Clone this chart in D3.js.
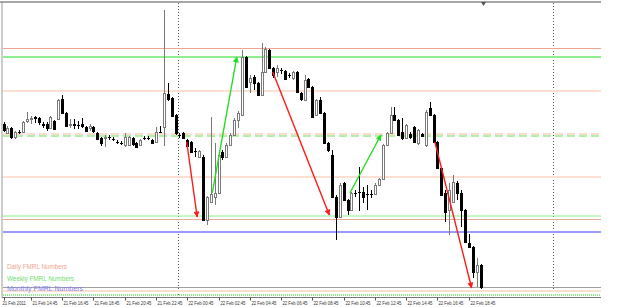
<!DOCTYPE html>
<html><head><meta charset="utf-8">
<script src="https://cdnjs.cloudflare.com/ajax/libs/d3/7.8.5/d3.min.js"></script>
<style>html,body{margin:0;padding:0;background:#fff;overflow:hidden}svg{display:block}</style>
</head><body><svg id="c" width="625" height="307"></svg>
<script>
// ---- data (EURUSD-like, M15 bars) ----
const startTime = "2011-02-21 13:00";
const barMinutes = 15;
const opens  = [1.3676,1.3667,1.3672,1.3663,1.3668,1.3668,1.3679,1.3681,1.3683,1.3682,1.3676,1.3676,1.3672,1.3679,1.3681,1.3701,1.3687,1.3675,1.3676,1.3675,1.3676,1.3673,1.3672,1.3673,1.3667,1.3662,1.3662,1.3663,1.3661,1.3658,1.3657,1.3655,1.3655,1.3662,1.3657,1.3655,1.3662,1.3662,1.3660,1.3658,1.3668,1.3673,1.3706,1.3702,1.3685,1.3665,1.3667,1.3660,1.3658,1.3649,1.3643,1.3643,1.3580,1.3598,1.3603,1.3607,1.3648,1.3643,1.3655,1.3665,1.3680,1.3685,1.3743,1.3718,1.3723,1.3717,1.3705,1.3728,1.3750,1.3732,1.3728,1.3730,1.3729,1.3725,1.3722,1.3728,1.3707,1.3700,1.3721,1.3713,1.3685,1.3700,1.3687,1.3657,1.3645,1.3603,1.3583,1.3617,1.3600,1.3590,1.3607,1.3608,1.3608,1.3606,1.3606,1.3606,1.3615,1.3621,1.3655,1.3667,1.3685,1.3680,1.3668,1.3662,1.3666,1.3673,1.3657,1.3666,1.3655,1.3692,1.3685,1.3658,1.3632,1.3607,1.3590,1.3598,1.3617,1.3607,1.3590,1.3557,1.3553,1.3528,1.3535];
const highs  = [1.3678,1.3674,1.3673,1.3669,1.3670,1.3679,1.3688,1.3684,1.3684,1.3683,1.3678,1.3678,1.3684,1.3680,1.3701,1.3705,1.3688,1.3681,1.3681,1.3679,1.3682,1.3674,1.3676,1.3674,1.3668,1.3663,1.3665,1.3665,1.3663,1.3660,1.3659,1.3667,1.3664,1.3663,1.3658,1.3661,1.3664,1.3664,1.3661,1.3673,1.3674,1.3790,1.3717,1.3703,1.3686,1.3667,1.3668,1.3661,1.3659,1.3652,1.3650,1.3645,1.3604,1.3683,1.3657,1.3648,1.3650,1.3657,1.3667,1.3682,1.3689,1.3750,1.3744,1.3725,1.3725,1.3718,1.3757,1.3753,1.3751,1.3733,1.3735,1.3732,1.3730,1.3727,1.3729,1.3729,1.3708,1.3725,1.3722,1.3714,1.3701,1.3703,1.3688,1.3658,1.3650,1.3605,1.3617,1.3618,1.3601,1.3608,1.3610,1.3633,1.3613,1.3615,1.3610,1.3617,1.3622,1.3656,1.3668,1.3693,1.3693,1.3681,1.3682,1.3676,1.3668,1.3674,1.3671,1.3667,1.3690,1.3698,1.3686,1.3659,1.3633,1.3610,1.3617,1.3625,1.3619,1.3610,1.3591,1.3566,1.3554,1.3542,1.3536];
const lows   = [1.3668,1.3666,1.3661,1.3661,1.3666,1.3667,1.3677,1.3676,1.3677,1.3675,1.3672,1.3669,1.3671,1.3670,1.3680,1.3686,1.3673,1.3672,1.3671,1.3671,1.3672,1.3668,1.3669,1.3667,1.3660,1.3654,1.3653,1.3660,1.3659,1.3656,1.3655,1.3653,1.3654,1.3654,1.3652,1.3654,1.3660,1.3660,1.3656,1.3657,1.3667,1.3654,1.3699,1.3683,1.3665,1.3662,1.3661,1.3653,1.3647,1.3643,1.3642,1.3579,1.3575,1.3597,1.3595,1.3606,1.3640,1.3642,1.3654,1.3664,1.3672,1.3684,1.3712,1.3707,1.3710,1.3704,1.3704,1.3727,1.3731,1.3722,1.3723,1.3726,1.3720,1.3722,1.3720,1.3707,1.3699,1.3699,1.3712,1.3682,1.3684,1.3686,1.3656,1.3648,1.3602,1.3560,1.3582,1.3599,1.3585,1.3589,1.3603,1.3589,1.3597,1.3590,1.3602,1.3605,1.3614,1.3620,1.3654,1.3666,1.3679,1.3664,1.3660,1.3661,1.3661,1.3657,1.3655,1.3663,1.3653,1.3684,1.3657,1.3631,1.3604,1.3578,1.3565,1.3597,1.3600,1.3573,1.3557,1.3552,1.3522,1.3513,1.3511];
const closes = [1.3670,1.3672,1.3663,1.3668,1.3668,1.3678,1.3681,1.3682,1.3682,1.3678,1.3675,1.3672,1.3683,1.3671,1.3700,1.3687,1.3674,1.3676,1.3675,1.3675,1.3674,1.3669,1.3674,1.3669,1.3661,1.3657,1.3663,1.3663,1.3661,1.3658,1.3657,1.3663,1.3663,1.3656,1.3653,1.3660,1.3662,1.3662,1.3657,1.3668,1.3668,1.3707,1.3701,1.3684,1.3667,1.3665,1.3662,1.3654,1.3648,1.3649,1.3649,1.3580,1.3603,1.3606,1.3607,1.3645,1.3643,1.3655,1.3665,1.3680,1.3687,1.3743,1.3713,1.3722,1.3717,1.3705,1.3728,1.3751,1.3732,1.3725,1.3732,1.3730,1.3721,1.3725,1.3728,1.3708,1.3701,1.3720,1.3713,1.3683,1.3700,1.3687,1.3657,1.3650,1.3603,1.3583,1.3615,1.3600,1.3590,1.3607,1.3607,1.3608,1.3603,1.3606,1.3606,1.3615,1.3621,1.3655,1.3667,1.3685,1.3680,1.3665,1.3662,1.3675,1.3663,1.3658,1.3670,1.3664,1.3688,1.3685,1.3658,1.3632,1.3605,1.3588,1.3610,1.3618,1.3607,1.3590,1.3558,1.3553,1.3528,1.3535,1.3513];

const dailyLevels   = [1.3752, 1.3709, 1.3666, 1.3623, 1.3581, 1.3509];
const weeklyLevels  = [1.3743, 1.3664, 1.3584, 1.3505];
const monthlyLevels = [1.3568];

const tickTimes  = ["2011-02-21 13:00","2011-02-21 14:45","2011-02-21 16:45","2011-02-21 18:45","2011-02-21 20:45","2011-02-21 22:45","2011-02-22 00:45","2011-02-22 02:45","2011-02-22 04:45","2011-02-22 06:45","2011-02-22 08:45","2011-02-22 10:45","2011-02-22 12:45","2011-02-22 14:45","2011-02-22 16:45","2011-02-22 18:45"];
const tickLabels = ["21 Feb 2011","21 Feb 14:45","21 Feb 16:45","21 Feb 18:45","21 Feb 20:45","21 Feb 22:45","22 Feb 00:45","22 Feb 02:45","22 Feb 04:45","22 Feb 06:45","22 Feb 08:45","22 Feb 10:45","22 Feb 12:45","22 Feb 14:45","22 Feb 16:45","22 Feb 18:45"];
const separatorTimes = ["2011-02-22 00:00","2011-02-23 00:00"];

const arrowStartTime  = ["2011-02-22 00:43","2011-02-22 02:21","2011-02-22 06:13","2011-02-22 11:09","2011-02-22 16:35"];
const arrowStartPrice = [1.3658, 1.3607, 1.3728, 1.3607, 1.3658];
const arrowEndTime    = ["2011-02-22 01:23","2011-02-22 03:55","2011-02-22 09:50","2011-02-22 13:08","2011-02-22 18:56"];
const arrowEndPrice   = [1.3583, 1.3743, 1.3585, 1.3665, 1.3512];

const legendLabels = ["Daily FMRL Numbers","Weekly FMRL Numbers","Monthly FMRL Numbers"];

// ---- drawing ----
const parse = d3.timeParse("%Y-%m-%d %H:%M");
const t0 = parse(startTime);
const times = opens.map((_, i) => d3.timeMinute.offset(t0, i * barMinutes));
const bars = opens.map((o, i) => ({t: times[i], o, h: highs[i], l: lows[i], c: closes[i]}));

const svg = d3.select("#c");
const right = 601, bottom = 297.5;
const x = d3.scaleTime().domain([times[0], times[times.length - 1]]).range([3.5, 480.5]);
const y = d3.scaleLinear().domain([1.3510, 1.3790]).range([290, 10]);

// frame
svg.append("line").attr("x1", 0).attr("x2", right).attr("y1", 2).attr("y2", 2).attr("stroke", "#8a8a8a").attr("stroke-width", 1.5);
svg.append("line").attr("x1", 2).attr("x2", 2).attr("y1", 2).attr("y2", bottom).attr("stroke", "#9a9a9a");

// separators
svg.selectAll(".sep").data(separatorTimes).join("line")
  .attr("x1", d => Math.round(x(parse(d)) + 2) + 0.5).attr("x2", d => Math.round(x(parse(d)) + 2) + 0.5)
  .attr("y1", 3).attr("y2", bottom)
  .attr("stroke", "#555").attr("stroke-dasharray", "1,2");

// level lines
const dailyStyle = [
  {c: "#eda58f", w: 1}, {c: "#fde0d2", w: 2}, {c: "#fcdccc", w: 2, d: "8,4"},
  {c: "#fde0d2", w: 2}, {c: "#e8ab98", w: 1}, {c: "#fde0d2", w: 2}
];
const weeklyStyle = [
  {c: "#8eef8e", w: 2}, {c: "#b2f2a8", w: 2, d: "8,4"}, {c: "#8eef8e", w: 1.2}, {c: "#8eef8e", w: 2, d: "1,1"}
];
const monthlyStyle = [{c: "#9a9aff", w: 2}];
function levels(arr, st, cls) {
  const yy = (d, i) => Math.round(y(d)) + (st[i].w === 1 ? 0.5 : 0);
  svg.selectAll("." + cls).data(arr).join("line").attr("class", cls)
    .attr("x1", 3).attr("x2", right)
    .attr("y1", yy).attr("y2", yy)
    .attr("stroke", (d, i) => st[i].c).attr("stroke-width", (d, i) => st[i].w)
    .attr("stroke-dasharray", (d, i) => st[i].d || null);
}
levels(weeklyLevels, weeklyStyle, "wk");
levels(dailyLevels, dailyStyle, "dl");
levels(monthlyLevels, monthlyStyle, "mn");

// bid line
const lastY = Math.round(y(closes[closes.length - 1])) + 0.5;
svg.append("line").attr("x1", 3).attr("x2", right).attr("y1", lastY).attr("y2", lastY).attr("stroke", "#a0a0a0");

// candles
const g = svg.append("g");
bars.forEach(b => {
  const cx = Math.round(x(b.t));
  const bull = b.c > b.o;
  const col = bull ? "#7a7a7a" : "#000";
  g.append("line").attr("x1", cx + 0.5).attr("x2", cx + 0.5)
    .attr("y1", y(b.h)).attr("y2", y(b.l)).attr("stroke", col);
  const top = Math.round(y(Math.max(b.o, b.c))), bot = Math.round(y(Math.min(b.o, b.c)));
  if (bot - top < 1) {
    g.append("line").attr("x1", cx - 1).attr("x2", cx + 2).attr("y1", top + 0.5).attr("y2", top + 0.5).attr("stroke", col);
  } else if (bull) {
    g.append("rect").attr("x", cx - 0.5).attr("y", top + 0.5).attr("width", 2).attr("height", bot - top)
      .attr("fill", "#fff").attr("stroke", col);
  } else {
    g.append("rect").attr("x", cx - 1).attr("y", top).attr("width", 3).attr("height", bot - top + 1).attr("fill", "#000");
  }
});

// arrows
const defs = svg.append("defs");
[["ar", "#ff1a1a"], ["ag", "#22dd22"]].forEach(([id, c]) => {
  defs.append("marker").attr("id", id).attr("viewBox", "0 0 10 10").attr("refX", 9).attr("refY", 5)
    .attr("markerWidth", 7).attr("markerHeight", 6).attr("markerUnits", "userSpaceOnUse").attr("orient", "auto")
    .append("path").attr("d", "M0,0 L10,5 L0,10 z").attr("fill", c);
});
arrowStartTime.forEach((s, i) => {
  const up = arrowEndPrice[i] > arrowStartPrice[i];
  svg.append("line")
    .attr("x1", x(parse(s))).attr("y1", y(arrowStartPrice[i]))
    .attr("x2", x(parse(arrowEndTime[i]))).attr("y2", y(arrowEndPrice[i]))
    .attr("stroke", up ? "#22dd22" : "#ff1a1a").attr("stroke-width", 1.4)
    .attr("marker-end", up ? "url(#ag)" : "url(#ar)");
});

// chart shift marker
svg.append("path").attr("d", "M481,2 L486,2 L483.5,6 Z").attr("fill", "#555");

// legend
const legendColors = ["#f2a48e", "#6fe06f", "#7f7ff2"];
const legendY = [269, 281, 290.5], legendW = [60, 67, 76];
legendLabels.forEach((t, i) => {
  svg.append("text").attr("x", 7).attr("y", legendY[i]).text(t)
    .attr("fill", legendColors[i]).attr("font-family", "Liberation Sans, Arial, sans-serif")
    .attr("font-size", 6.8).attr("textLength", legendW[i]).attr("lengthAdjust", "spacingAndGlyphs");
});

// x axis
svg.append("line").attr("x1", 2).attr("x2", right).attr("y1", bottom).attr("y2", bottom).attr("stroke", "#777");
tickTimes.forEach((t, i) => {
  const tx = Math.round(x(parse(t))) + 0.5;
  svg.append("line").attr("x1", tx).attr("x2", tx).attr("y1", bottom).attr("y2", bottom + 3).attr("stroke", "#555");
  svg.append("text").attr("transform", `translate(${i === 0 ? 2.5 : tx + 1},304.5) scale(0.68,1)`).text(tickLabels[i])
    .attr("fill", "#333").attr("font-family", "Liberation Sans, Arial, sans-serif")
    .attr("font-size", 6.2);
});
</script></body></html>
